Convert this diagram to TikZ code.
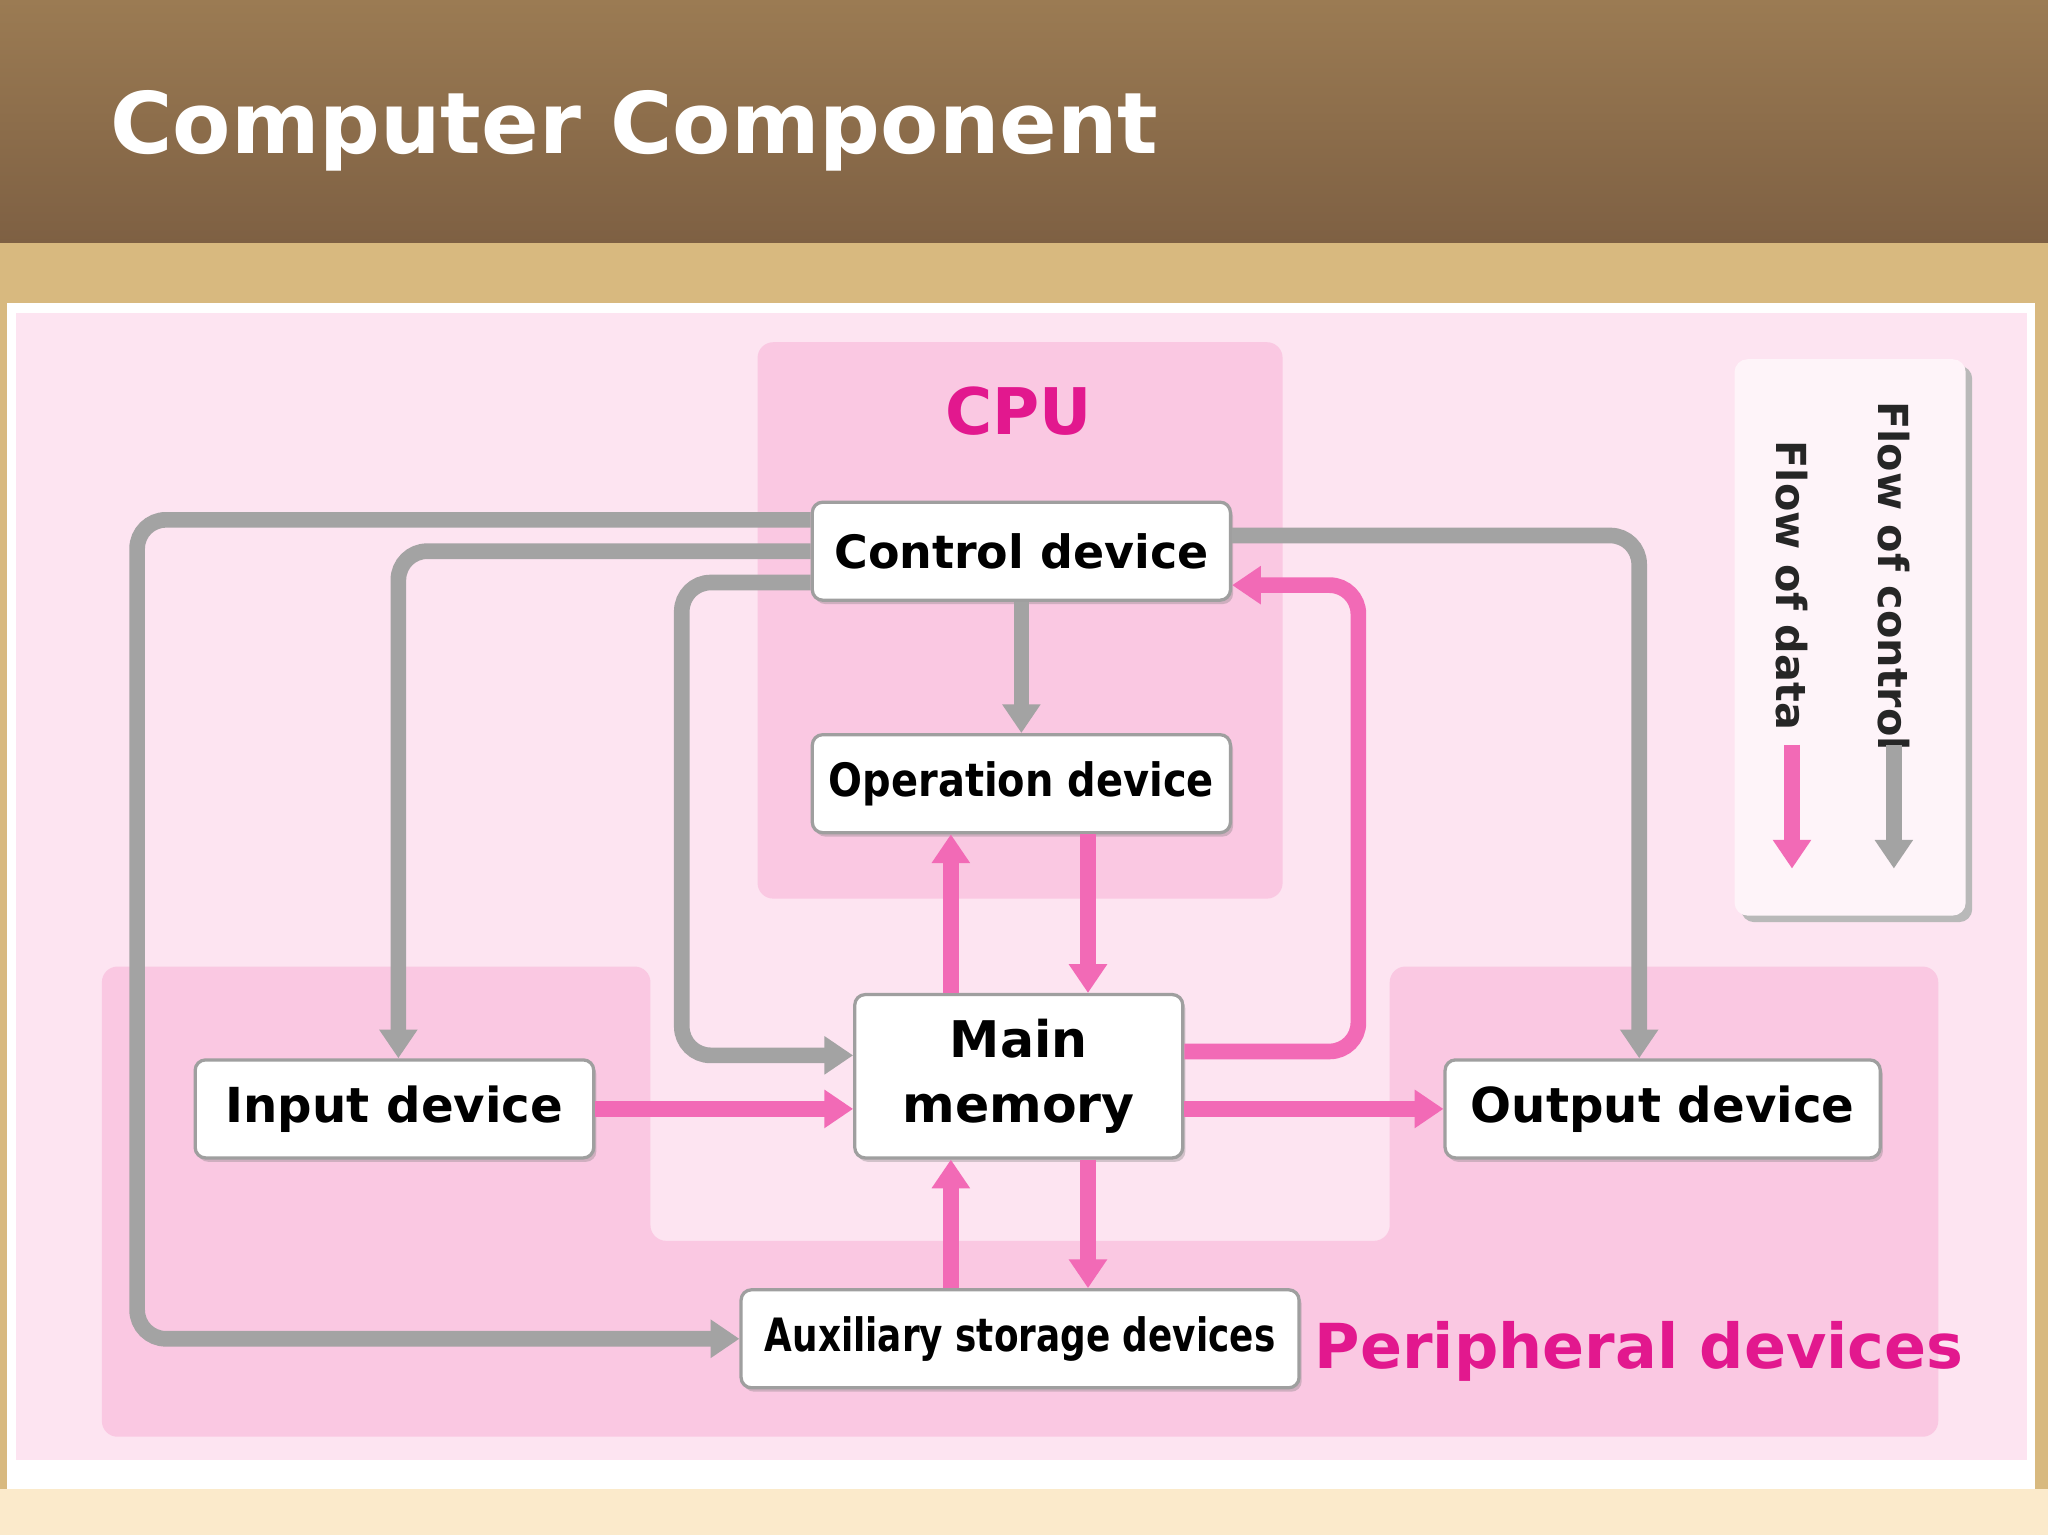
\documentclass[tikz,border=0pt]{standalone}
\usepackage{fontspec}
\setmainfont{DejaVu Sans}
\usetikzlibrary{arrows.meta,shadows}
\definecolor{brownT}{HTML}{9B7B53}
\definecolor{brownB}{HTML}{7E6043}
\definecolor{tan}{HTML}{D8B97F}
\definecolor{cream}{HTML}{FBEACB}
\definecolor{bgpink}{HTML}{FDE4F1}
\definecolor{regpink}{HTML}{FAC8E2}
\definecolor{garr}{HTML}{A3A3A3}
\definecolor{parr}{HTML}{F26AB6}
\definecolor{mag}{HTML}{E2188E}
\tikzset{
 box/.style={draw=gray!75,line width=0.025cm,rounded corners=0.08cm,fill=white,font=\bfseries\fontsize{10}{12}\selectfont,inner sep=0pt,drop shadow={shadow xshift=0.02cm,shadow yshift=-0.03cm,opacity=0.35}},
 ga/.style={draw=garr,line width=0.12cm,rounded corners=0.22cm,-{Triangle[width=0.28cm,length=0.22cm]}},
 pa/.style={draw=parr,line width=0.12cm,rounded corners=0.22cm,-{Triangle[width=0.28cm,length=0.22cm]}},
}
\begin{document}
\begin{tikzpicture}[x=0.01cm,y=-0.01cm]
\useasboundingbox (0,0) rectangle (1568,1175);
\fill[tan] (0,0) rectangle (1568,1175);
\fill[cream] (0,1140) rectangle (1568,1175);
\shade[top color=brownT,bottom color=brownB] (0,0) rectangle (1568,186);
\node[anchor=west,text=white,font=\bfseries\fontsize{18.5}{22}\selectfont] (title) at (72,100) {Computer Component};
\fill[white] (5,232) rectangle (1558,1140);
\fill[bgpink] (12,240) rectangle (1552,1118);
% regions
\fill[regpink,rounded corners=0.12cm] (580,262) rectangle (982,688);
\fill[regpink,rounded corners=0.12cm] (78,740) -- (498,740) -- (498,950) -- (1064,950) -- (1064,740) -- (1484,740) -- (1484,1100) -- (78,1100) -- cycle;
% legend
\fill[gray!55,rounded corners=0.1cm] (1333,280) rectangle (1510,706);
\fill[white!60!bgpink,rounded corners=0.1cm] (1328,275) rectangle (1505,701);
\node[rotate=-90,anchor=west,font=\bfseries\fontsize{9}{11}\selectfont,text=black!85] (lc) at (1450,295) {Flow of control};
\node[rotate=-90,anchor=west,font=\bfseries\fontsize{9}{11}\selectfont,text=black!85] (ld) at (1372,325) {Flow of data};
\coordinate (lc1) at (1450,570); \coordinate (lc2) at (1450,665);
\coordinate (ld1) at (1372,570); \coordinate (ld2) at (1372,665);
\draw[ga] (lc1) -- (lc2);
\draw[pa] (ld1) -- (ld2);
% labels
\node[text=mag,font=\bfseries\fontsize{14}{17}\selectfont] (cpu) at (780,315) {CPU};
\node[text=mag,font=\bfseries\fontsize{13.5}{16}\selectfont] (per) at (1255,1035) {Peripheral devices};
% nodes
\node[box,minimum width=3.2cm,minimum height=0.75cm] (ctl) at (782,422) {Control device};
\node[box,minimum width=3.2cm,minimum height=0.75cm] (op) at (782,600) {\scalebox{0.87}[1]{Operation device}};
\node[box,minimum width=2.51cm,minimum height=1.25cm,align=center,font=\bfseries\fontsize{11}{14}\selectfont] (mm) at (780,824) {Main\\memory};
\node[box,minimum width=3.05cm,minimum height=0.75cm,font=\bfseries\fontsize{10.5}{12}\selectfont] (in) at (302,849) {Input device};
\node[box,minimum width=3.33cm,minimum height=0.75cm,font=\bfseries\fontsize{10.5}{12}\selectfont] (out) at (1273,849) {Output device};
\node[box,minimum width=4.27cm,minimum height=0.75cm] (aux) at (781,1025) {\scalebox{0.78}[1]{Auxiliary storage devices}};
% gray arrows
\draw[ga] (ctl.west |- 0,398) -- (105,398) -- (105,1025) -- (aux.west);
\draw[ga] (ctl.west) -- (305,422) -- (in.north -| 305,0);
\draw[ga] (ctl.west |- 0,446) -- (522,446) -- (522,808) -- (mm.west |- 0,808);
\draw[ga] (ctl.east |- 0,410) -- (1255,410) -- (out.north -| 1255,0);
\draw[ga] (ctl.south) -- (op.north);
% pink arrows
\draw[pa] (op.south -| 833,0) -- (mm.north -| 833,0);
\draw[pa] (mm.north -| 728,0) -- (op.south -| 728,0);
\draw[pa] (in.east) -- (mm.west |- in.east);
\draw[pa] (mm.east |- out.west) -- (out.west);
\draw[pa] (mm.south -| 833,0) -- (aux.north -| 833,0);
\draw[pa] (aux.north -| 728,0) -- (mm.south -| 728,0);
\draw[pa] (mm.east |- 0,805) -- (1040,805) -- (1040,448) -- (ctl.east |- 0,448);
\end{tikzpicture}
\end{document}
